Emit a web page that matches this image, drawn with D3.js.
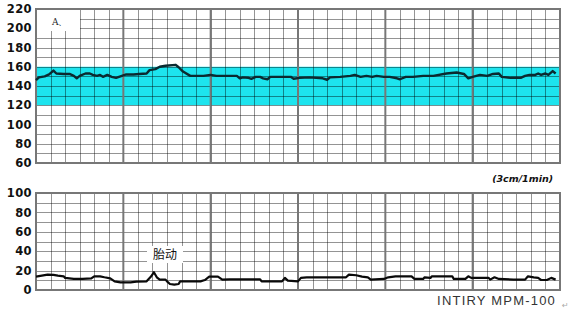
<!DOCTYPE html>
<html>
<head>
<meta charset="utf-8">
<script src="https://cdn.jsdelivr.net/npm/d3@7/dist/d3.min.js"></script>
<style>
  body { margin: 0; background: #fff; }
  svg { display: block; }
</style>
</head>
<body>
<div id="chart"></div>
<script>
// Fetal heart rate trace (seconds, bpm)
var fhrTime = [0, 2, 6, 9, 12, 14, 19, 23, 26, 28, 30, 34, 37, 39, 42, 44, 46, 49, 52, 55, 59, 62, 67, 71, 76, 78, 82, 85, 89, 96, 98, 101, 106, 110, 115, 120, 124, 131, 138, 140, 142, 146, 148, 151, 154, 156, 159, 161, 168, 175, 177, 181, 188, 197, 200, 202, 209, 216, 219, 223, 227, 231, 234, 239, 243, 248, 250, 254, 259, 266, 273, 282, 289, 294, 297, 300, 305, 310, 314, 318, 320, 326, 333, 336, 339, 343, 345, 347, 350, 352, 355, 357];
var fhrValue = [146, 149, 150, 152, 156, 153, 152.5, 152.5, 150.5, 148, 150.5, 153, 153, 151.5, 150.5, 151.5, 149.5, 151.5, 149.5, 148.5, 150.5, 152, 152, 152.5, 153, 156.5, 157.5, 160, 161, 162, 159.5, 155, 150.5, 150.5, 150.5, 151.5, 150.5, 150.5, 150.5, 148, 149, 148.5, 147.5, 149.5, 149.5, 148, 147, 149.5, 149.5, 149.5, 147.5, 148.5, 149, 148, 146.5, 149, 149.5, 150.5, 151.5, 149.5, 150.5, 149.5, 150.5, 149.5, 149.5, 148, 147, 149.5, 149.5, 150.5, 150.5, 153, 154, 152.5, 148, 149.5, 151.5, 150.5, 152.5, 153, 149.5, 148.5, 148.5, 150.5, 151.5, 151.5, 153, 151.5, 153, 151.5, 155.5, 153];

// Fetal movement trace (seconds, value)
var fmTime = [0, 4, 8, 12, 15, 19, 20, 26, 32, 38, 40, 44, 47, 51, 54, 58, 65, 69, 76, 79, 81, 83, 85, 89, 90, 92, 95, 98, 99, 108, 113, 116, 119, 125, 128, 133, 154, 155, 169, 171, 173, 180, 182, 186, 213, 215, 220, 224, 228, 230, 239, 242, 247, 258, 260, 266, 267, 271, 272, 286, 287, 295, 297, 299, 311, 312, 315, 318, 328, 336, 338, 342, 345, 347, 351, 354, 357];
var fmValue = [13.8, 14.8, 15.9, 15.6, 14.8, 14.1, 12.5, 11.4, 11.4, 12, 14.1, 14.1, 13.1, 12, 8.9, 7.9, 7.9, 8.6, 8.9, 13.8, 18.3, 13.1, 10.7, 10.7, 8.9, 6.2, 5.5, 6.2, 8.9, 8.9, 8.9, 10.3, 13.8, 13.8, 10.7, 11, 11, 8.9, 8.9, 12.5, 9.7, 8.9, 12.5, 13.1, 13.1, 15.9, 15.2, 13.8, 13.1, 10.7, 11.4, 13.1, 14.1, 14.1, 11.4, 11.4, 13.1, 12.5, 14.1, 14.1, 11.4, 11.4, 14.1, 12.5, 12.5, 10.7, 13.1, 11.4, 10.7, 10.7, 14.1, 13.1, 12.5, 10.3, 10.3, 12.5, 10.7];

var fhrTicks = [60, 80, 100, 120, 140, 160, 180, 200, 220];
var fmTicks = [0, 20, 40, 60, 80, 100];
var normalBand = [120, 160];

var width = 573;
var height = 311;

var svg = d3.select('#chart')
            .append('svg')
            .attr('width', width)
            .attr('height', height);

// Shared time axis: 6 minutes, minor every 10 s, major every minute
var x = d3.scaleLinear()
          .domain([0, 360])
          .range([36, 560]);
var minorX = d3.range(0, 361, 10);
var majorX = d3.range(0, 361, 60);

function drawGrid(g, y, step) {
  var yDomain = y.domain();
  var rows = d3.range(yDomain[0], yDomain[1] + 0.1, step);

  g.append('g')
   .selectAll('line')
   .data(rows)
   .enter()
   .append('line')
   .attr('x1', x(0))
   .attr('x2', x(360))
   .attr('y1', function (d) { return Math.round(y(d)) + 0.5; })
   .attr('y2', function (d) { return Math.round(y(d)) + 0.5; })
   .attr('stroke', '#000')
   .attr('stroke-opacity', 0.42)
   .attr('stroke-width', 1);

  g.append('g')
   .selectAll('line')
   .data(minorX)
   .enter()
   .append('line')
   .attr('x1', function (d) { return Math.round(x(d)) + 0.5; })
   .attr('x2', function (d) { return Math.round(x(d)) + 0.5; })
   .attr('y1', y(yDomain[0]))
   .attr('y2', y(yDomain[1]))
   .attr('stroke', '#000')
   .attr('stroke-opacity', 0.42)
   .attr('stroke-width', 1);

  g.append('g')
   .selectAll('line')
   .data(majorX)
   .enter()
   .append('line')
   .attr('x1', function (d) { return x(d); })
   .attr('x2', function (d) { return x(d); })
   .attr('y1', y(yDomain[0]) + 1)
   .attr('y2', y(yDomain[1]) - 1)
   .attr('stroke', '#777')
   .attr('stroke-width', 2);

  g.append('rect')
   .attr('x', x(0))
   .attr('y', y(yDomain[1]))
   .attr('width', x(360) - x(0))
   .attr('height', y(yDomain[0]) - y(yDomain[1]))
   .attr('fill', 'none')
   .attr('stroke', '#777')
   .attr('stroke-width', 2);
}

function drawAxis(g, y, ticks) {
  var axis = d3.axisLeft(y)
               .tickValues(ticks)
               .tickSize(0)
               .tickPadding(4);
  var a = g.append('g')
           .attr('transform', 'translate(' + x(0) + ',0)')
           .call(axis);
  a.select('.domain').remove();
  a.selectAll('text')
   .attr('fill', '#111')
   .style('font-family', '"DejaVu Sans", sans-serif')
   .style('font-weight', 'bold')
   .style('font-size', '11.5px')
   .style('letter-spacing', '0.4px');
}

// Top panel: fetal heart rate
var yTop = d3.scaleLinear()
             .domain([60, 220])
             .range([163, 9]);
var fhrPanel = svg.append('g').attr('class', 'fhr');

fhrPanel.append('rect')
        .attr('x', x(0))
        .attr('y', yTop(normalBand[1]))
        .attr('width', x(360) - x(0))
        .attr('height', yTop(normalBand[0]) - yTop(normalBand[1]))
        .attr('fill', '#1de4ee');

drawGrid(fhrPanel, yTop, 10);

// white label box in the corner
fhrPanel.append('rect')
        .attr('x', x(0) + 1)
        .attr('y', yTop(220) + 1)
        .attr('width', 43)
        .attr('height', 21)
        .attr('fill', '#fff');
fhrPanel.append('text')
        .attr('x', 52)
        .attr('y', 25)
        .attr('fill', '#222')
        .style('font-family', '"DejaVu Serif", serif')
        .style('font-size', '9px')
        .text('A、');

var fhrLine = d3.line()
                .x(function (d) { return x(d[0]); })
                .y(function (d) { return yTop(d[1]); });
fhrPanel.append('path')
        .datum(d3.zip(fhrTime, fhrValue))
        .attr('d', fhrLine)
        .attr('fill', 'none')
        .attr('stroke', '#0b2a30')
        .attr('stroke-width', 2.4)
        .attr('stroke-linejoin', 'round');

drawAxis(fhrPanel, yTop, fhrTicks);

svg.append('text')
   .attr('x', 553)
   .attr('y', 182)
   .attr('text-anchor', 'end')
   .attr('fill', '#111')
   .style('font-family', '"DejaVu Sans", sans-serif')
   .style('font-weight', 'bold')
   .style('font-style', 'italic')
   .style('font-size', '9.5px')
   .text('(3cm/1min)');

// Bottom panel: fetal movement
var yBot = d3.scaleLinear()
             .domain([0, 100])
             .range([290, 193]);
var fmPanel = svg.append('g').attr('class', 'fm');

drawGrid(fmPanel, yBot, 10);

fmPanel.append('rect')
       .attr('x', 147)
       .attr('y', 246)
       .attr('width', 36)
       .attr('height', 17)
       .attr('fill', '#fff');
fmPanel.append('text')
       .attr('x', 165)
       .attr('y', 259)
       .attr('text-anchor', 'middle')
       .attr('fill', '#111')
       .style('font-family', '"Noto Sans CJK SC", sans-serif')
       .style('font-size', '12px')
       .text('胎动');

var fmLine = d3.line()
               .x(function (d) { return x(d[0]); })
               .y(function (d) { return yBot(d[1]); });
fmPanel.append('path')
       .datum(d3.zip(fmTime, fmValue))
       .attr('d', fmLine)
       .attr('fill', 'none')
       .attr('stroke', '#0a0a0a')
       .attr('stroke-width', 2.2)
       .attr('stroke-linejoin', 'round');

drawAxis(fmPanel, yBot, fmTicks);

svg.append('text')
   .attr('x', 556)
   .attr('y', 305)
   .attr('text-anchor', 'end')
   .attr('fill', '#333')
   .style('font-family', '"Liberation Sans", sans-serif')
   .style('font-size', '13px')
   .style('letter-spacing', '1.2px')
   .text('INTIRY  MPM-100');

svg.append('text')
   .attr('x', 562)
   .attr('y', 308)
   .attr('fill', '#aaa')
   .style('font-family', '"DejaVu Sans", sans-serif')
   .style('font-size', '8px')
   .text('↵');
</script>
</body>
</html>
